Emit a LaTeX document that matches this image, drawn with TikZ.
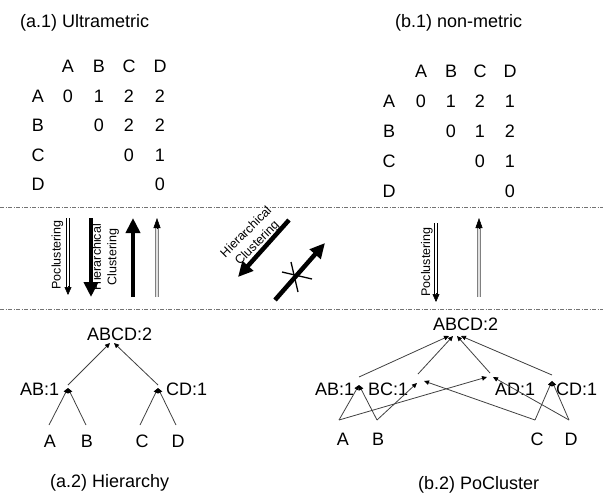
\documentclass[tikz,border=0pt]{standalone}
\usepackage{fontspec}
\setmainfont{Liberation Sans}
\usetikzlibrary{arrows.meta,calc}
\begin{document}
\begin{tikzpicture}[x=1pt,y=-1pt,
 lbl/.style={font=\fontsize{18}{21}\selectfont, inner sep=0pt, anchor=base},
 ttl/.style={lbl, anchor=base west},
 small/.style={font=\fontsize{12.5}{15.5}\selectfont, inner sep=0pt, align=center},
 sep/.style={draw=black!55, line width=0.6pt, dash pattern=on 4pt off 1.5pt on 1pt off 1.5pt},
 dblk/.style={draw=black, double=white, line width=0.7pt, double distance=2.2pt},
 dgray/.style={draw=black!50, double=black!12, line width=0.8pt, double distance=2pt},
 tipk/.style={line width=0.5pt, -{Triangle[length=8pt,width=7pt]}},
 tipg/.style={line width=0.5pt, -{Triangle[length=10pt,width=7pt]}},
 fat/.style={line width=4.5pt, -{Triangle[length=15pt,width=14pt]}},
 edge/.style={draw=black!75, line width=0.8pt, -{Triangle[length=5pt,width=4.5pt,color=black]}},
 xmark/.style={line width=1.3pt}]
\useasboundingbox (0,0) rectangle (603,496);

% titles
\node[ttl] (t1) at (20,27) {(a.1) Ultrametric};
\node[ttl] (t2) at (395,27) {(b.1) non-metric};

% matrix a
\foreach \t/\x [count=\i] in {A/68,B/99,C/129,D/160} \node[lbl] (ah\i) at (\x,72) {\t};
\foreach \t/\y [count=\i] in {A/102,B/131.5,C/161,D/190.5} \node[lbl] (ar\i) at (38,\y) {\t};
\foreach \v/\x/\y [count=\i] in {0/68/102,1/99/102,2/129/102,2/160/102,0/99/131.5,2/129/131.5,2/160/131.5,0/129/161,1/160/161,0/160/190.5}
  \node[lbl] (ae\i) at (\x,\y) {\v};

% matrix b
\foreach \t/\x [count=\i] in {A/421,B/451,C/480,D/510} \node[lbl] (bh\i) at (\x,77) {\t};
\foreach \t/\y [count=\i] in {A/107,B/137,C/167,D/197} \node[lbl] (br\i) at (389,\y) {\t};
\foreach \v/\x/\y [count=\i] in {0/421/107,1/451/107,2/480/107,1/510/107,0/451/137,1/480/137,2/510/137,0/480/167,1/510/167,0/510/197}
  \node[lbl] (be\i) at (\x,\y) {\v};

% separators
\coordinate (s1l) at (0,207); \coordinate (s1r) at (603,207);
\coordinate (s2l) at (0,309); \coordinate (s2r) at (603,309);
\draw[sep] (s1l) -- (s1r);
\draw[sep] (s2l) -- (s2r);

% left arrows
\coordinate (p1s) at (68,218); \coordinate (p1e) at (68,295);
\draw[dblk] (p1s) -- ($(p1e)+(0,-7)$);
\draw[tipk] ($(p1e)+(0,-9)$) -- (p1e);
\node[small, rotate=90] (p1l) at (57.5,255) {Poclustering};

\coordinate (h1s) at (91,218); \coordinate (h1e) at (91,297);
\draw[fat] (h1s) -- (h1e);
\node[small, rotate=90] (h1l) at (105.5,257) {Hierarchical\\Clustering};

\coordinate (u1s) at (133,297); \coordinate (u1e) at (133,218);
\draw[fat] (u1s) -- (u1e);

\coordinate (g1s) at (157,297); \coordinate (g1e) at (157,218);
\draw[dgray] (g1s) -- ($(g1e)+(0,9)$);
\draw[tipg] ($(g1e)+(0,11)$) -- (g1e);

% diagonal arrows
\coordinate (d1s) at (289,220); \coordinate (d1e) at (238,277);
\draw[fat] (d1s) -- (d1e);
\node[small, rotate=45] (d1l) at (252,238) {Hierarchical\\Clustering};

\coordinate (d2s) at (275,300); \coordinate (d2e) at (325,243);
\draw[fat] (d2s) -- (d2e);
\coordinate (x1a) at (282,272); \coordinate (x1b) at (312,279);
\coordinate (x2a) at (291,262); \coordinate (x2b) at (298,292);
\draw[xmark] (x1a) -- (x1b);
\draw[xmark] (x2a) -- (x2b);

% right arrows
\coordinate (p2s) at (436,223); \coordinate (p2e) at (436,302);
\draw[dblk] (p2s) -- ($(p2e)+(0,-7)$);
\draw[tipk] ($(p2e)+(0,-9)$) -- (p2e);
\node[small, rotate=90] (p2l) at (427,262) {Poclustering};

\coordinate (g2s) at (479,297); \coordinate (g2e) at (479,218);
\draw[dgray] (g2s) -- ($(g2e)+(0,9)$);
\draw[tipg] ($(g2e)+(0,11)$) -- (g2e);

% hierarchy (a.2)
\node[ttl] (la) at (87,340) {ABCD:2};
\node[ttl] (lab) at (20,395) {AB:1};
\node[ttl] (lcd) at (166,395) {CD:1};
\node[lbl] (lA) at (50,447) {A};
\node[lbl] (lB) at (87,447) {B};
\node[lbl] (lC) at (142,447) {C};
\node[lbl] (lD) at (178,447) {D};
\node[ttl] (lt) at (50,487) {(a.2) Hierarchy};
\coordinate (qA) at (49,425); \coordinate (qB) at (86,425);
\coordinate (qC) at (140,425); \coordinate (qD) at (176,425);
\coordinate (jab) at (68,388); \coordinate (jcd) at (158,388);
\coordinate (jab2) at (68,385); \coordinate (jcd2) at (158,385);
\coordinate (ta1) at (110,343); \coordinate (ta2) at (114,343);
\draw[edge] (qA) -- (jab);
\draw[edge] (qB) -- (jab);
\draw[edge] (qC) -- (jcd);
\draw[edge] (qD) -- (jcd);
\draw[edge] (jab2) -- (ta1);
\draw[edge] (jcd2) -- (ta2);

% pocluster (b.2)
\node[ttl] (ra) at (433,330) {ABCD:2};
\node[ttl] (rab) at (315,395) {AB:1};
\node[ttl] (rbc) at (368,395) {BC:1};
\node[ttl] (rad) at (495,395) {AD:1};
\node[ttl] (rcd) at (556,395) {CD:1};
\node[lbl] (rA) at (343,445) {A};
\node[lbl] (rB) at (378,445) {B};
\node[lbl] (rC) at (537,445) {C};
\node[lbl] (rD) at (571,445) {D};
\node[ttl] (rt) at (418,489) {(b.2) PoCluster};
\coordinate (oA) at (339,420); \coordinate (oB) at (377,420);
\coordinate (oC) at (535,420); \coordinate (oD) at (569,420);
\coordinate (kab) at (359,385); \coordinate (kab2) at (359,377);
\coordinate (kbc1) at (417,383); \coordinate (kbc2) at (424,381); \coordinate (kbc3) at (418,374);
\coordinate (kad1) at (487,377); \coordinate (kad2) at (493,377); \coordinate (kad3) at (490,373);
\coordinate (kcd) at (552,381); \coordinate (kcd2) at (552,375);
\coordinate (tb1) at (449,336); \coordinate (tb2) at (453,336);
\coordinate (tb3) at (457,336); \coordinate (tb4) at (461,336);
\draw[edge] (oA) -- (kab);
\draw[edge] (oB) -- (kab);
\draw[edge] (oA) -- (kad1);
\draw[edge] (oB) -- (kbc1);
\draw[edge] (oC) -- (kbc2);
\draw[edge] (oC) -- (kcd);
\draw[edge] (oD) -- (kcd);
\draw[edge] (oD) -- (kad2);
\draw[edge] (kab2) -- (tb1);
\draw[edge] (kbc3) -- (tb2);
\draw[edge] (kad3) -- (tb3);
\draw[edge] (kcd2) -- (tb4);
\end{tikzpicture}
\end{document}
